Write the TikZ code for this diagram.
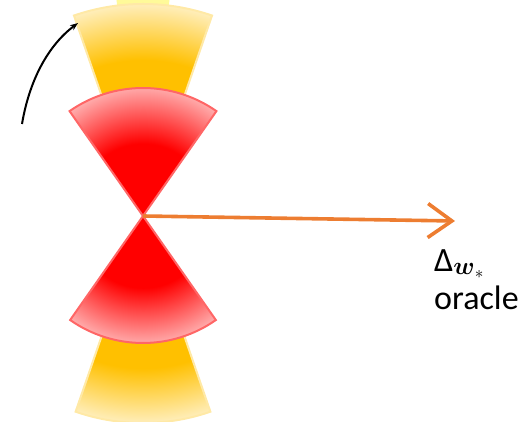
\documentclass[tikz,border=0pt]{standalone}
\usepackage{amsmath}
\usepackage{fontspec}
\setmainfont{Carlito}
\usepackage{xcolor}
\usepackage{tikz}
\usetikzlibrary{arrows.meta,positioning,calc}
\definecolor{fanyellow}{HTML}{FFC000}
\definecolor{rayorange}{HTML}{ED7D31}
\pgfdeclareradialshading{redfade}{\pgfpoint{0bp}{0bp}}{color(0bp)=(red); color(13bp)=(red); color(25bp)=(red!25); color(50bp)=(red!25)}
\pgfdeclareradialshading{yellowfade}{\pgfpoint{0bp}{0bp}}{color(0bp)=(fanyellow); color(18bp)=(fanyellow); color(25bp)=(fanyellow!22); color(50bp)=(fanyellow!22)}
\tikzset{
  redfan/.style={draw=red!60,line width=2pt,path picture={\shade[shading=redfade] (O) circle (#1);}},
  yellowfan/.style={draw=fanyellow!35,line width=2pt,path picture={\shade[shading=yellowfade] (O) circle (#1);}},
  palefan/.style={fill=yellow!40,draw=none},
  ray/.style={line width=3.6pt,rayorange,-{Straight Barb[length=24pt,width=34pt,line width=3.6pt]}},
  pointer/.style={line width=2pt,black,-{Stealth[length=8pt,width=6pt]}},
  lab/.style={font=\fontsize{34}{38}\selectfont,align=left,inner sep=0pt}
}
\begin{document}
\begin{tikzpicture}[x=1pt,y=1pt]
  \useasboundingbox (0,0) rectangle (519,422);
  \coordinate (O) at (143,206);
  \begin{scope}
    \clip (0,0) rectangle (519,422);
    % outer pale wedge, cut by the frame
    \path[palefan] (O) -- ++(83:260) arc[start angle=83,end angle=97,radius=260] -- cycle;
    % yellow wedges
    \path[yellowfan=212] (O) -- ++(71:212) arc[start angle=71,end angle=109,radius=212] -- cycle;
    \path[yellowfan=207] (O) -- ++(251:207) arc[start angle=251,end angle=289,radius=207] -- cycle;
  \end{scope}
  % red wedges
  \path[redfan=128] (O) -- ++(55:128) arc[start angle=55,end angle=125,radius=128] -- cycle;
  \path[redfan=127] (O) -- ++(235:127) arc[start angle=235,end angle=305,radius=127] -- cycle;
  % oracle direction
  \coordinate (tip) at (455,201);
  \draw[ray] (O) -- (tip);
  \node[lab,anchor=north west] (orc) at (434,173) {Δ$_{\boldsymbol{w}_*}$\\oracle};
  % curved pointer
  \coordinate (tail) at (22,298);
  \coordinate (head) at (78,399);
  \draw[pointer] (tail) .. controls (30,345) and (50,378) .. (head);
\end{tikzpicture}
\end{document}
